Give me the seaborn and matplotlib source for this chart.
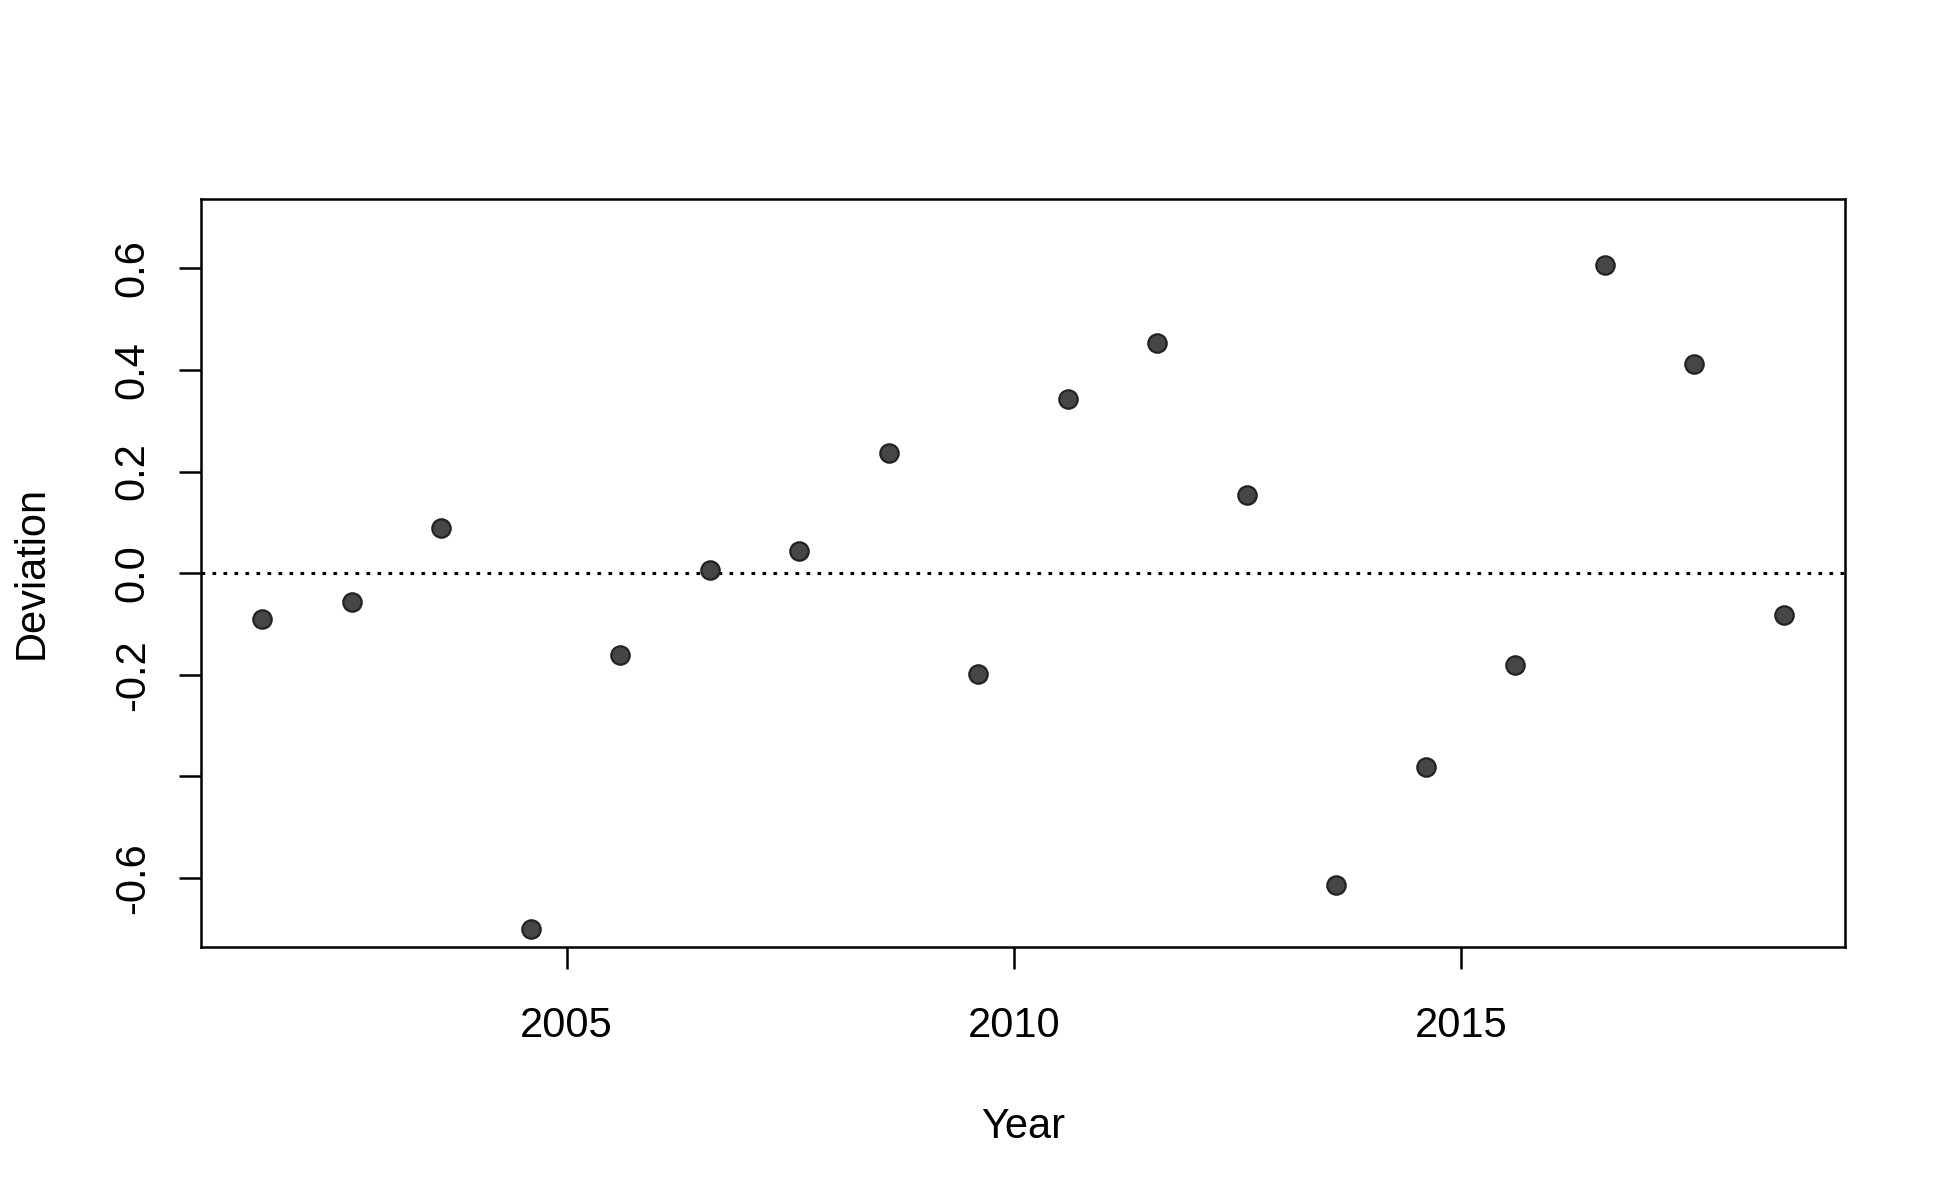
import pandas as pd
import matplotlib
matplotlib.use("Agg")
import matplotlib.pyplot as plt
import seaborn as sns

# Values
years = [2001.6, 2002.6, 2003.6, 2004.6, 2005.6, 2006.6, 2007.6, 2008.6, 2009.6,
         2010.6, 2011.6, 2012.6, 2013.6, 2014.6, 2015.6, 2016.6, 2017.6, 2018.6]
deviation = [-0.091, -0.056, 0.088, -0.700, -0.162, 0.007, 0.044, 0.237, -0.198,
             0.343, 0.453, 0.154, -0.614, -0.382, -0.181, 0.607, 0.411, -0.083]
x_ticks = [2005, 2010, 2015]
y_ticks = [-0.6, -0.4, -0.2, 0.0, 0.2, 0.4, 0.6]
y_tick_labels = ["-0.6", "", "-0.2", "0.0", "0.2", "0.4", "0.6"]

df = pd.DataFrame({"Year": years, "Deviation": deviation})

sns.set_style("white")
plt.rcParams["font.family"] = ["Liberation Sans", "DejaVu Sans"]

fig = plt.figure(figsize=(19.5, 12), dpi=100)
ax = fig.add_axes([0.1033, 0.2112, 0.8426, 0.6232])

sns.scatterplot(data=df, x="Year", y="Deviation", ax=ax, s=175,
                color="#464646", edgecolor="#222222", linewidth=1.6, zorder=3)
ax.axhline(0, color="black", linestyle=(0, (1.2, 2.4)), linewidth=2.2, zorder=2)

ax.set_xlim(2000.92, 2019.28)
ax.set_ylim(-0.735, 0.737)
ax.set_xticks(x_ticks)
ax.set_xticklabels([str(t) for t in x_ticks])
ax.set_yticks(y_ticks)
ax.set_yticklabels(y_tick_labels, rotation=90, va="center")

for sp in ax.spines.values():
    sp.set_visible(True)
    sp.set_color("black")
    sp.set_linewidth(1.8)

ax.tick_params(axis="both", direction="out", length=16, width=1.8,
               labelsize=30, colors="black", bottom=True, left=True)
ax.tick_params(axis="x", pad=27)
ax.tick_params(axis="y", pad=19)

ax.set_xlabel("Year", fontsize=30, labelpad=44, color="black")
ax.set_ylabel("Deviation", fontsize=30, labelpad=44, color="black")

fig.savefig("out.png", dpi=100, facecolor="white")
